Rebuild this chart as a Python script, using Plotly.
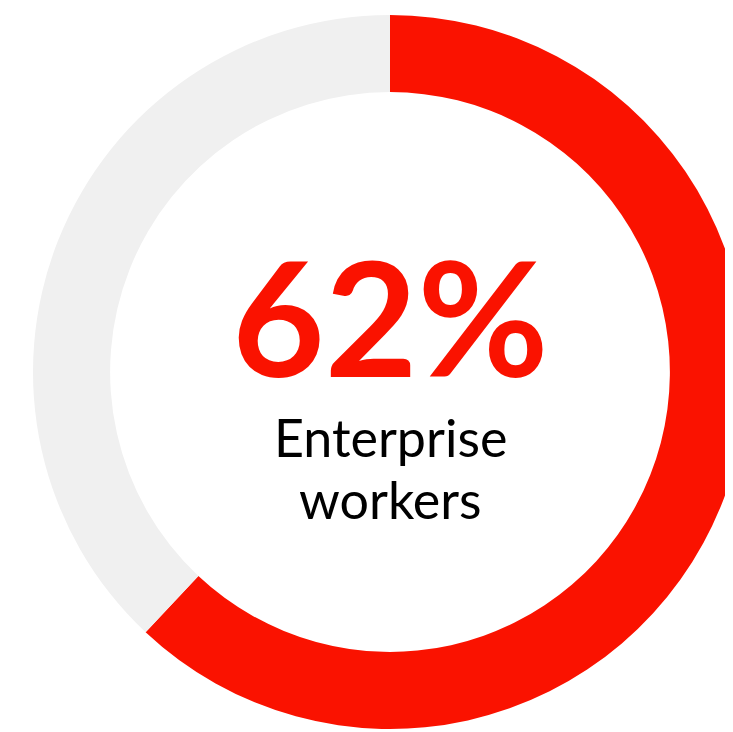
import plotly.graph_objects as go

labels = ["Enterprise workers", "Other"]
values = [62, 38]
colors = ["#fa1200", "#f0f0f0"]
big_label = "62%"
sub_lines = ["Enterprise", "workers"]

W, H = 760, 732
fig = go.Figure(go.Pie(
    labels=labels, values=values, hole=0.784, sort=False, direction="clockwise",
    rotation=0, marker=dict(colors=colors, line=dict(width=0)),
    textinfo="none", hoverinfo="skip", showlegend=False,
    domain=dict(x=[25 / W, 739 / W], y=[(H - 721) / H, (H - 7) / H]),
))
fig.add_annotation(text=f"<b>{big_label}</b>", x=383 / W, y=(H - 306.5) / H, xref="paper", yref="paper",
                   xanchor="center", yanchor="middle",
                   showarrow=False, font=dict(family="Lato", size=160, color=colors[0]))
for line, ypx in zip(sub_lines, [428.5, 491.5]):
    fig.add_annotation(text=line, x=383 / W, y=(H - ypx) / H, xref="paper", yref="paper",
                       xanchor="center", yanchor="middle",
                       showarrow=False, font=dict(family="Lato", size=52, color="#000000"))
fig.update_layout(width=W, height=H, margin=dict(l=0, r=0, t=0, b=0),
                  paper_bgcolor="white", plot_bgcolor="white")
fig.write_html("out.html", post_script="document.body.style.overflow='hidden';")
